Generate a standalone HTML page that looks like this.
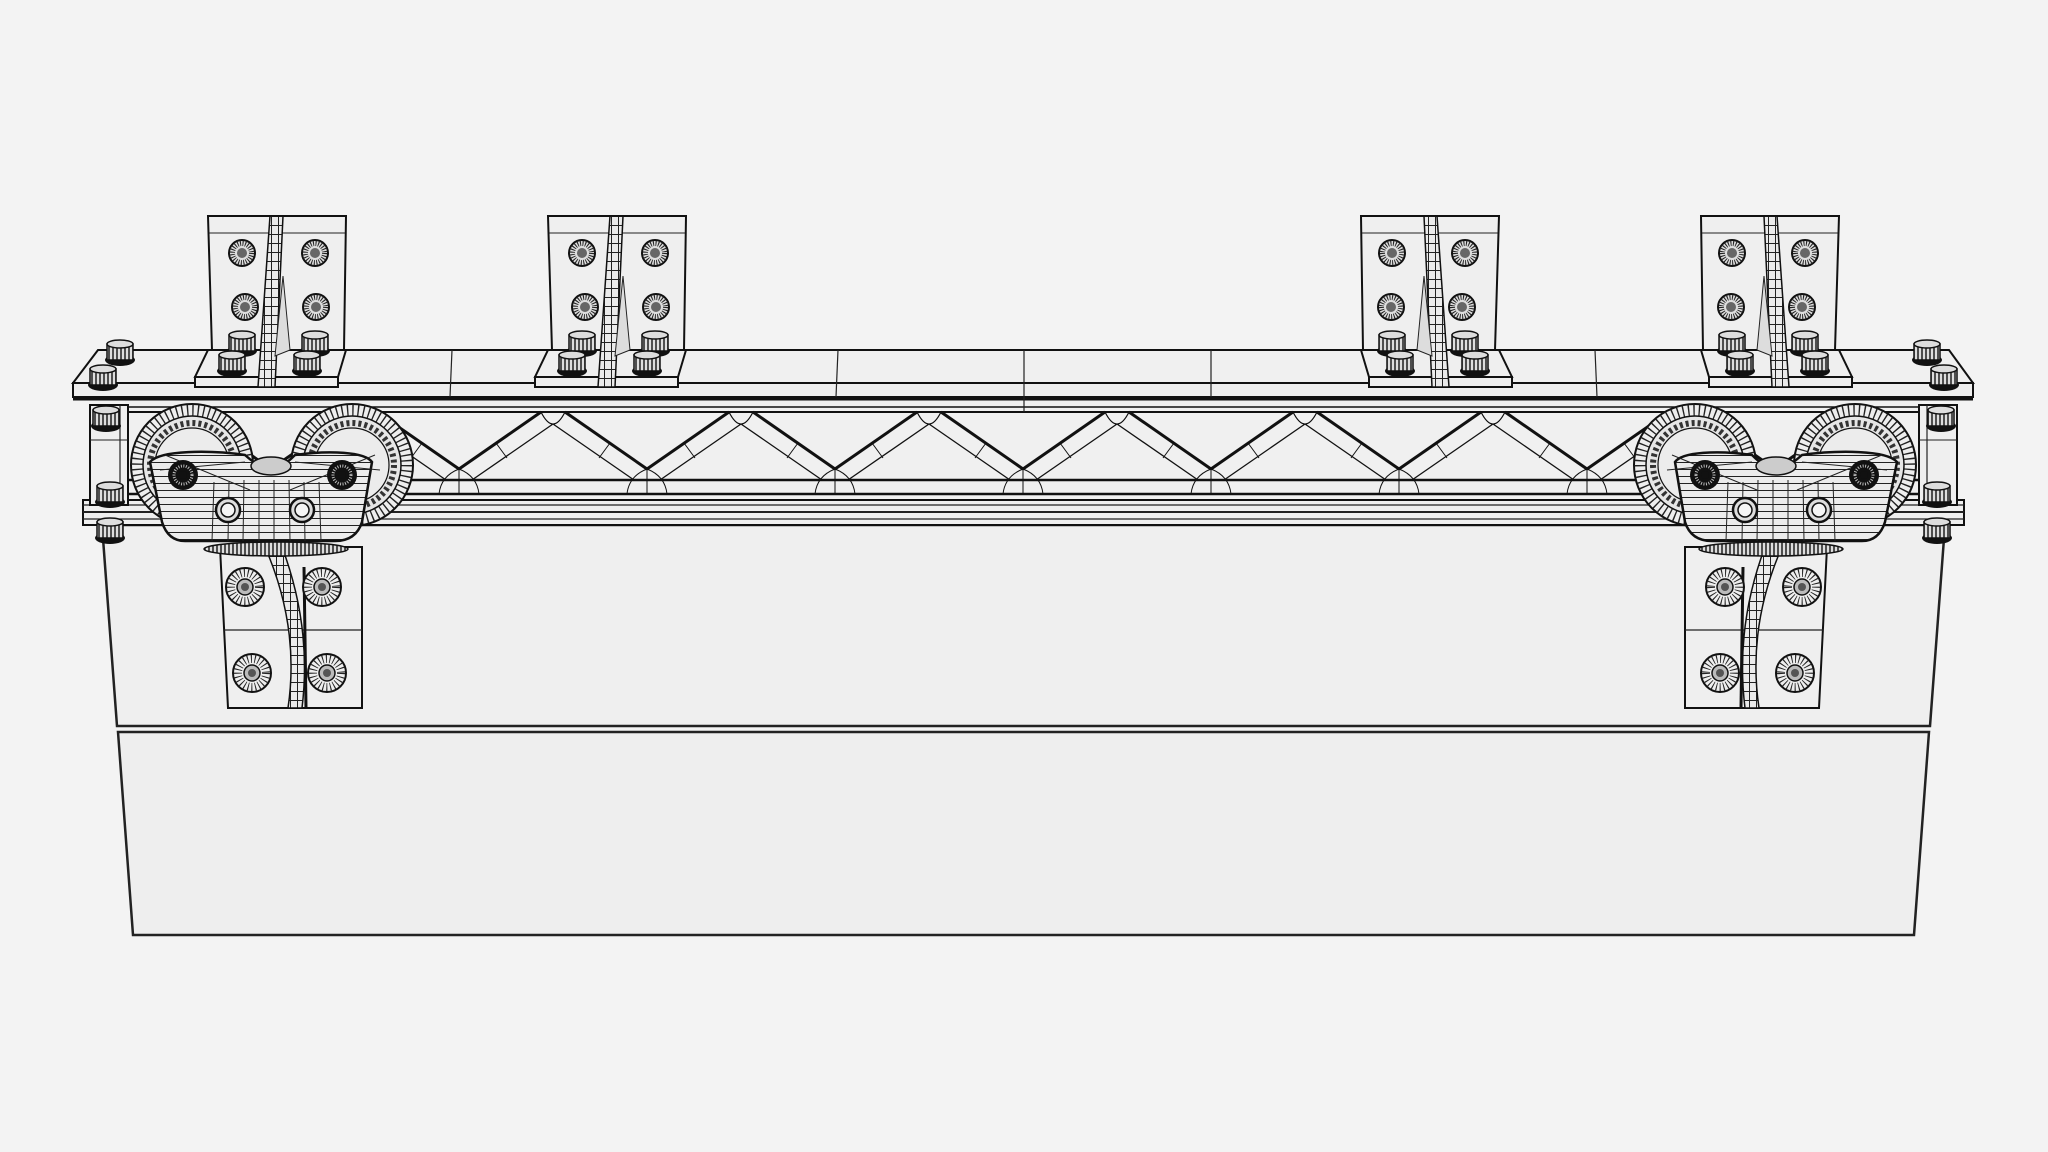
<!DOCTYPE html>
<html><head><meta charset="utf-8"><style>
html,body{margin:0;padding:0;background:#f3f3f3;width:2048px;height:1152px;overflow:hidden}
svg{display:block}
</style></head><body>
<svg width="2048" height="1152" viewBox="0 0 2048 1152" xmlns="http://www.w3.org/2000/svg">
<defs>
<pattern id="hh" width="10" height="7" patternUnits="userSpaceOnUse"><rect width="10" height="7" fill="#ececec"/><line x1="0" y1="0.5" x2="10" y2="0.5" stroke="#222" stroke-width="1"/></pattern>
<pattern id="grid" width="7" height="9" patternUnits="userSpaceOnUse"><rect width="7" height="9" fill="#ebebeb"/><path d="M0 .5H7M.5 0V9" stroke="#222" stroke-width="1"/></pattern>
<pattern id="vs" width="4" height="10" patternUnits="userSpaceOnUse"><rect width="4" height="10" fill="#ddd"/><line x1="1" y1="0" x2="1" y2="10" stroke="#111" stroke-width="1.4"/></pattern>
<g id="bolt"><circle r="13" fill="#ddd" stroke="#111" stroke-width="2"/><circle r="9.5" fill="none" stroke="#222" stroke-width="5" stroke-dasharray="1 1.5"/><circle r="5" fill="#666"/></g>
<g id="wash"><circle r="19" fill="#eee" stroke="#111" stroke-width="2"/><circle r="14" fill="none" stroke="#222" stroke-width="8" stroke-dasharray="1 2.6"/><circle r="8" fill="#bbb" stroke="#111" stroke-width="1.5"/><circle r="4" fill="#555"/></g>
<g id="nut"><ellipse cx="0" cy="8" rx="15" ry="6" fill="#111"/><rect x="-13" y="-8" width="26" height="16" fill="url(#vs)" stroke="#111" stroke-width="1.5"/><ellipse cx="0" cy="-8" rx="13" ry="4" fill="#ddd" stroke="#111" stroke-width="1.5"/></g>
<g id="tb">
 <polygon points="0,134 138,134 130,161 -13,161" fill="#efefef" stroke="#111" stroke-width="2"/>
 <rect x="-13" y="161" width="143" height="10" fill="#eee" stroke="#111" stroke-width="2"/>
 <polygon points="0,0 138,0 136,134 4,134" fill="#efefef" stroke="#111" stroke-width="2"/>
 <line x1="1" y1="17" x2="137" y2="17" stroke="#222" stroke-width="1"/>
 <polygon points="62,0 75,0 67,171 50,171" fill="url(#grid)" stroke="#111" stroke-width="1.5"/>
 <polygon points="75,60 82,134 67,140" fill="#ddd" stroke="#222" stroke-width="1"/>
 <use href="#bolt" x="34" y="37"/><use href="#bolt" x="107" y="37"/>
 <use href="#bolt" x="37" y="91"/><use href="#bolt" x="108" y="91"/>
 <use href="#nut" x="34" y="127"/><use href="#nut" x="24" y="147"/>
 <use href="#nut" x="107" y="127"/><use href="#nut" x="99" y="147"/>
</g>
<g id="lb">
 <polygon points="0,0 142,0 142,161 8,161" fill="#efefef" stroke="#111" stroke-width="2"/>
 <line x1="4" y1="83" x2="142" y2="83" stroke="#222" stroke-width="1.2"/>
 <path d="M45,0 Q80,80 68,161 L82,161 Q92,80 62,0 Z" fill="url(#grid)" stroke="#111" stroke-width="1.5"/>
 <line x1="84" y1="20" x2="86" y2="161" stroke="#111" stroke-width="3"/>
 <use href="#wash" x="25" y="40"/><use href="#wash" x="102" y="40"/>
 <use href="#wash" x="32" y="126"/><use href="#wash" x="107" y="126"/>
</g>
<g id="wheel">
 <circle r="61" fill="#eee" stroke="#111" stroke-width="2"/>
 <circle r="55" fill="none" stroke="#222" stroke-width="11" stroke-dasharray="1.4 4"/>
 <circle r="49" fill="#e6e6e6" stroke="#111" stroke-width="1.5"/>
 <circle r="42" fill="none" stroke="#333" stroke-width="6" stroke-dasharray="3 3"/>
 <circle r="37" fill="#ececec" stroke="#111" stroke-width="1.2"/>
</g>
<g id="wa">
 <ellipse cx="276" cy="549" rx="72" ry="7" fill="url(#vs)" stroke="#111" stroke-width="1.5"/>
 <use href="#wheel" x="192" y="465"/><use href="#wheel" x="352" y="465"/>
 <path d="M150,462 C160,450 210,450 245,455 Q262,470 270,470 Q280,470 295,455 C330,450 365,452 372,462 L362,522 Q356,541 335,541 L185,541 Q168,541 162,522 Z" fill="url(#hh)" stroke="#111" stroke-width="2.5"/>
 <ellipse cx="271" cy="466" rx="20" ry="9" fill="#ccc" stroke="#111" stroke-width="1.5"/>
 <g stroke="#222" stroke-width="1"><line x1="214" y1="482" x2="212" y2="541"/><line x1="229" y1="482" x2="228" y2="541"/><line x1="244" y1="480" x2="243" y2="541"/><line x1="259" y1="480" x2="259" y2="541"/><line x1="274" y1="480" x2="274" y2="541"/><line x1="289" y1="480" x2="290" y2="541"/><line x1="304" y1="482" x2="305" y2="541"/><line x1="319" y1="482" x2="321" y2="541"/><path d="M160,470 L245,462 M380,470 L295,462 M165,455 L250,490 M375,455 L290,490" fill="none"/></g>
 <circle cx="183" cy="475" r="15" fill="#111"/><circle cx="183" cy="475" r="9" fill="none" stroke="#bbb" stroke-width="3" stroke-dasharray="1 1.5"/><circle cx="183" cy="475" r="4" fill="#111"/>
 <circle cx="342" cy="475" r="15" fill="#111"/><circle cx="342" cy="475" r="9" fill="none" stroke="#bbb" stroke-width="3" stroke-dasharray="1 1.5"/><circle cx="342" cy="475" r="4" fill="#111"/>
 <circle cx="228" cy="510" r="12" fill="#ddd" stroke="#111" stroke-width="2.5"/><circle cx="228" cy="510" r="7" fill="#f5f5f5" stroke="#111" stroke-width="1.5"/>
 <circle cx="302" cy="510" r="12" fill="#ddd" stroke="#111" stroke-width="2.5"/><circle cx="302" cy="510" r="7" fill="#f5f5f5" stroke="#111" stroke-width="1.5"/>
</g>
<g id="post">
 <rect x="90" y="405" width="38" height="100" fill="#efefef" stroke="#111" stroke-width="2"/>
 <line x1="120" y1="405" x2="120" y2="505" stroke="#222" stroke-width="1.2"/>
 <line x1="90" y1="440" x2="128" y2="440" stroke="#222" stroke-width="1"/>
 <use href="#nut" x="106" y="418"/><use href="#nut" x="110" y="494"/>
 <use href="#nut" x="110" y="530"/>
 <use href="#nut" x="120" y="352"/><use href="#nut" x="103" y="377"/>
</g>
<g id="v" fill="none" stroke="#111">
 <line x1="-82" y1="412" x2="0" y2="469" stroke-width="3"/>
 <line x1="-94" y1="424" x2="-13" y2="480" stroke-width="1.3"/>
 <line x1="82" y1="412" x2="0" y2="469" stroke-width="3"/>
 <line x1="94" y1="424" x2="13" y2="480" stroke-width="1.3"/>
 <line x1="-37" y1="443" x2="-48" y2="458" stroke-width="1"/>
 <line x1="37" y1="443" x2="48" y2="458" stroke-width="1"/>
 <path d="M-20,494 Q-18,476 0,469 Q18,476 20,494 M0,469 V494" stroke-width="1"/>
 <path d="M-106,412 Q-100,424 -94,424 Q-88,424 -82,412 M82,412 Q88,424 94,424 Q100,424 106,412" stroke-width="1"/>
</g>
</defs>

<!-- lower box -->
<polygon points="118,732 1929,732 1914,935 133,935" fill="#eeeeee" stroke="#222" stroke-width="2.5"/>
<!-- upper box -->
<polygon points="102,525 1945,525 1930,726 117,726" fill="#efefef" stroke="#222" stroke-width="2.5"/>
<!-- flange -->
<rect x="83" y="500" width="1881" height="25" fill="#efefef" stroke="#111" stroke-width="2"/>
<g stroke="#222"><line x1="83" y1="505" x2="1964" y2="505" stroke-width="1.2"/><line x1="83" y1="512" x2="1964" y2="512" stroke-width="2"/><line x1="83" y1="519" x2="1964" y2="519" stroke-width="1.2"/></g>
<!-- truss -->
<rect x="125" y="398" width="1797" height="102" fill="#f0f0f0" stroke="none"/>
<g stroke="#111"><line x1="125" y1="407" x2="1922" y2="407" stroke-width="1.5"/><line x1="125" y1="412" x2="1922" y2="412" stroke-width="2"/><line x1="125" y1="480" x2="1922" y2="480" stroke-width="2.5"/><line x1="125" y1="494" x2="1922" y2="494" stroke-width="2.5"/><line x1="125" y1="500" x2="1922" y2="500" stroke-width="2"/></g>
<use href="#v" x="271"/><use href="#v" x="459"/><use href="#v" x="647"/><use href="#v" x="835"/><use href="#v" x="1023"/><use href="#v" x="1211"/><use href="#v" x="1399"/><use href="#v" x="1587"/><use href="#v" x="1775"/>
<!-- rail -->
<polygon points="98,350 1949,350 1973,383 73,383" fill="#f0f0f0" stroke="#111" stroke-width="2"/>
<rect x="73" y="383" width="1900" height="14" fill="#eee" stroke="#111" stroke-width="2"/>
<line x1="73" y1="399" x2="1973" y2="399" stroke="#111" stroke-width="3"/>
<g stroke="#222" stroke-width="1.2"><line x1="452" y1="350" x2="450" y2="397"/><line x1="838" y1="350" x2="836" y2="397"/><line x1="1024" y1="350" x2="1024" y2="412"/><line x1="1211" y1="350" x2="1211" y2="397"/><line x1="1595" y1="350" x2="1597" y2="397"/></g>

<!-- left assemblies -->
<use href="#post"/>
<use href="#lb" x="220" y="547"/>
<use href="#wa"/>
<use href="#tb" x="208" y="216"/>
<use href="#tb" x="548" y="216"/>
<!-- right (mirrored) -->
<g transform="translate(2047,0) scale(-1,1)">
 <use href="#post"/>
 <use href="#lb" x="220" y="547"/>
 <use href="#wa"/>
 <use href="#tb" x="208" y="216"/>
 <use href="#tb" x="548" y="216"/>
</g>
</svg>
</body></html>
